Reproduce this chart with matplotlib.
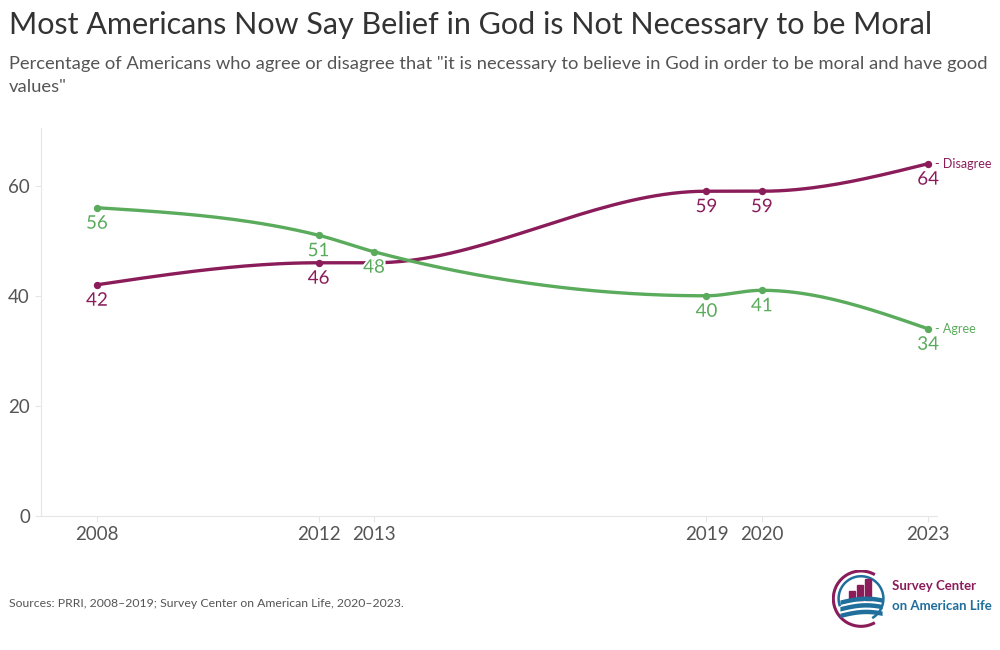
import matplotlib
matplotlib.use('Agg')
import matplotlib.pyplot as plt
import matplotlib.patches as mpatches
import matplotlib.patheffects as pe
import numpy as np

plt.rcParams['font.family'] = ['Lato', 'DejaVu Sans']

years = [2008, 2012, 2013, 2019, 2020, 2023]
disagree = [42, 46, 46, 59, 59, 64]
agree = [56, 51, 48, 40, 41, 34]
yticks = [0, 20, 40, 60]
# the 2013 "Disagree" label is hidden in the chart (it sits under the 48)
hidden_labels = {('Disagree', 2013)}

PURPLE = '#8a1c5a'
GREEN = '#5aab5c'
BLUE = '#1f6e9c'
GREY = '#555555'


def monotone_x(xs, ys, n=40):
    # same idea as d3.curveMonotoneX
    x = np.array(xs, float)
    y = np.array(ys, float)
    h = np.diff(x)
    s = np.diff(y) / h
    t = np.zeros(len(x))
    for i in range(1, len(x) - 1):
        p = (s[i - 1] * h[i] + s[i] * h[i - 1]) / (h[i - 1] + h[i])
        t[i] = (np.sign(s[i - 1]) + np.sign(s[i])) * min(abs(s[i - 1]), abs(s[i]), 0.5 * abs(p))
    t[0] = (3 * s[0] - t[1]) / 2
    t[-1] = (3 * s[-1] - t[-2]) / 2
    px, py = [], []
    for i in range(len(x) - 1):
        dx = h[i] / 3
        x0, y0 = x[i], y[i]
        x3, y3 = x[i + 1], y[i + 1]
        x1, y1 = x0 + dx, y0 + dx * t[i]
        x2, y2 = x3 - dx, y3 - dx * t[i + 1]
        u = np.linspace(0, 1, n)
        bx = (1-u)**3*x0 + 3*(1-u)**2*u*x1 + 3*(1-u)*u**2*x2 + u**3*x3
        by = (1-u)**3*y0 + 3*(1-u)**2*u*y1 + 3*(1-u)*u**2*y2 + u**3*y3
        px.extend(bx)
        py.extend(by)
    return px, py


fig = plt.figure(figsize=(10, 6.5), dpi=100)
ax = fig.add_axes([0.041, 0.2062, 0.896, 0.597])

halo = [pe.withStroke(linewidth=3, foreground='white')]
for vals, col, name in [(disagree, PURPLE, 'Disagree'), (agree, GREEN, 'Agree')]:
    cx, cy = monotone_x(years, vals)
    ax.plot(cx, cy, color=col, lw=2.4, solid_capstyle='round', zorder=3)
    ax.scatter(years, vals, s=28, color=col, zorder=4, linewidths=0)
    for xv, yv in zip(years, vals):
        if (name, xv) in hidden_labels:
            continue
        ax.annotate(str(yv), (xv, yv), xytext=(0, -5), textcoords='offset points',
                    ha='center', va='top', fontsize=13.5, color=col, zorder=6,
                    path_effects=halo)
    ax.annotate('- ' + name, (years[-1], vals[-1]), xytext=(5, 0), textcoords='offset points',
                ha='left', va='center', fontsize=9, color=col)

ax.set_xlim(2006.99, 2023.16)
ax.set_ylim(0, 70.5)
ax.set_xticks(years)
ax.set_yticks(yticks)
ax.tick_params(axis='both', colors='#e6e6e6', labelcolor=GREY, labelsize=13.5, length=4, width=0.8)
ax.tick_params(axis='y', pad=4)
ax.tick_params(axis='x', pad=3)
for side in ['top', 'right']:
    ax.spines[side].set_visible(False)
for side in ['left', 'bottom']:
    ax.spines[side].set_color('#e6e6e6')
    ax.spines[side].set_linewidth(0.8)

fig.text(0.009, 0.948, 'Most Americans Now Say Belief in God is Not Necessary to be Moral',
         fontsize=22, color='#333333', va='baseline')
fig.text(0.009, 0.894, 'Percentage of Americans who agree or disagree that "it is necessary to believe in God in order to be moral and have good',
         fontsize=13.2, color=GREY, va='baseline')
fig.text(0.009, 0.859, 'values"', fontsize=13.2, color=GREY, va='baseline')
fig.text(0.009, 0.066, 'Sources: PRRI, 2008\u20132019; Survey Center on American Life, 2020\u20132023.',
         fontsize=8.8, color=GREY, va='baseline')

# logo
lg = fig.add_axes([0.832, 0.033, 0.058, 0.092])
lg.set_xlim(-1.1, 1.1)
lg.set_ylim(-1.1, 1.1)
lg.set_aspect('equal')
lg.axis('off')
lg.add_patch(mpatches.Arc((0, 0), 2.1, 2.1, theta1=60, theta2=300, color=PURPLE, lw=2.2))
lg.add_patch(mpatches.Arc((0, 0), 1.7, 1.7, theta1=-60, theta2=200, color=BLUE, lw=1.8))
for bx, bh in [(-0.45, 0.35), (-0.15, 0.55), (0.15, 0.8)]:
    lg.add_patch(mpatches.Rectangle((bx, -0.05), 0.22, bh, color=PURPLE))
wx = np.linspace(-0.8, 0.8, 50)
for k, off in enumerate([0.0, -0.25, -0.5]):
    top = -0.05 + off + 0.15 * np.sin((wx + 0.8) * 1.6)
    lg.fill_between(wx, top - 0.17, top, color=BLUE, lw=0)
fig.text(0.892, 0.092, 'Survey Center', fontsize=9.5, color=PURPLE, weight='bold', va='baseline')
fig.text(0.892, 0.062, 'on American Life', fontsize=9.5, color=BLUE, weight='bold', va='baseline')

fig.savefig('out.png', dpi=100, facecolor='white')
